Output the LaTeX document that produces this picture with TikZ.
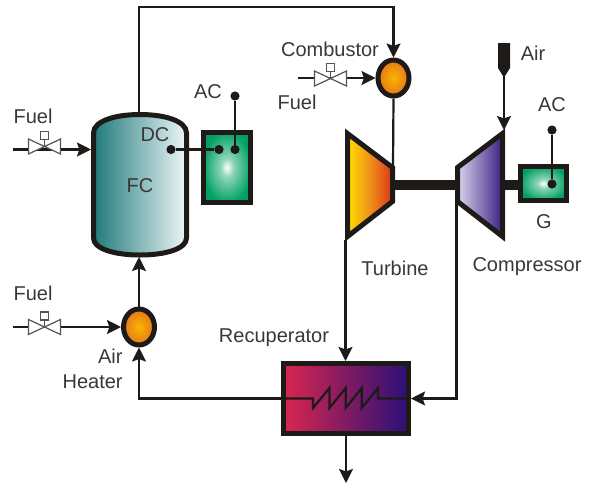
\documentclass[tikz,border=0pt]{standalone}
\usepackage{fontspec}
\setmainfont{Liberation Sans}
\usetikzlibrary{positioning, calc, arrows.meta, shapes.geometric}

\definecolor{inkline}{HTML}{1E1A18}
\definecolor{inktext}{HTML}{3A3836}
\definecolor{tankdark}{HTML}{1F7A7C}
\definecolor{tanklight}{HTML}{EEF6F6}
\definecolor{gengreen}{HTML}{00A062}
\definecolor{burnin}{HTML}{F7B500}
\definecolor{burnout}{HTML}{E8761A}
\definecolor{recupred}{HTML}{D8264E}
\definecolor{recupblue}{HTML}{2A1078}
\definecolor{turba}{HTML}{FFE000}
\definecolor{turbb}{HTML}{F0901A}
\definecolor{turbc}{HTML}{DC3414}
\definecolor{compa}{HTML}{DAD6EC}
\definecolor{compb}{HTML}{3A2082}

\pgfdeclareradialshading{genglow}{\pgfpointorigin}{color(0bp)=(white); color(7bp)=(gengreen!45!white); color(26bp)=(gengreen); color(50bp)=(gengreen)}

\tikzset{
    pipe/.style={line width=1.1pt, draw=inkline},
    flow/.style={pipe, -{Stealth[length=7pt, width=7pt, inset=1.2pt]}},
    wall/.style={line width=2.5pt, draw=inkline, line join=miter},
    label/.style={text=inktext, font=\fontsize{10}{12}\selectfont, inner sep=0pt},
    dot/.style={circle, fill=inkline, inner sep=0pt, minimum size=4.6pt},
    burner/.style={ellipse, wall, inner sep=0pt, minimum width=15.5pt, minimum height=18pt,
        shading=radial, inner color=burnin, outer color=burnout},
    genbox/.style={rectangle, wall, inner sep=0pt, shading=genglow},
    valve/.pic={
        \draw[line width=0.6pt, draw=inkline!75, fill=white] (-16,-7.5) -- (16,7.5) -- (16,-7.5) -- (-16,7.5) -- cycle;
        \draw[line width=0.6pt, draw=inkline!75] (0,0) -- (0,-7);
        \draw[line width=0.6pt, draw=inkline!75, fill=white] (-3.8,-15) rectangle (3.8,-7);
    }
}

\begin{document}
\begin{tikzpicture}[x=0.5pt, y=-0.5pt]
    \useasboundingbox (0,0) rectangle (589,484);

    % Fuel cell tank
    \draw[wall, left color=tankdark, right color=tanklight] (93.5,133)
        .. controls (93.5,121) and (115,114.5) .. (140,114.5)
        .. controls (165,114.5) and (186.5,121) .. (186.5,133) -- (186.5,238)
        .. controls (186.5,249) and (165,255) .. (140,255)
        .. controls (115,255) and (93.5,249) .. (93.5,238) -- cycle;
    \coordinate (fctop) at (139,112);
    \coordinate (fcbottom) at (139,257);
    \coordinate (fcwest) at (91,149.5);

    % Boxes and burners
    \node[genbox, minimum width=23.5pt, minimum height=35pt] (acbox) at (227,167.5) {};
    \node[genbox, minimum width=23pt, minimum height=17pt] (genbox) at (543.5,183.5) {};
    \node[burner] (comb) at (393.5,78) {};
    \node[burner] (heater) at (139,327) {};
    \node[rectangle, wall, inner sep=0pt, minimum width=62.5pt, minimum height=35pt,
        left color=recupred, right color=recupblue] (recup) at (346,398.5) {};

    % Turbine and compressor
    \draw[wall, left color=turba, right color=turbc, middle color=turbb]
        (347.5,133.5) -- (392.5,167.5) -- (392.5,201.5) -- (347.5,236.5) -- cycle;
    \draw[wall, left color=compa, right color=compb]
        (457.5,167.5) -- (502.5,133.5) -- (502.5,236.5) -- (457.5,201.5) -- cycle;
    \coordinate (turbin) at (393,166);
    \coordinate (turbout) at (345.5,240);
    \coordinate (compout) at (456.5,203);
    \coordinate (compin) at (504,130);

    % Shaft
    \fill[inkline] (395,180) rectangle (455,190);
    \fill[inkline] (505,180) rectangle (518,190);

    % Air inlet
    \fill[inkline] (498,43) -- (510,43) -- (510,68) -- (505,76) -- (503,76) -- (498,68) -- cycle;
    \coordinate (airin) at (504,74);

    % Pipes
    \coordinate (toprun) at (139,7);
    \coordinate (stack) at (346,483);
    \draw[flow] (fctop) -- (toprun) -| (comb.north);
    \draw[pipe] (comb.south) -- (turbin);
    \draw[flow] (airin) -- (compin);
    \draw[flow] (turbout) -- (turbout |- recup.north);
    \draw[flow] (compout) |- (recup.east);
    \draw[flow] (recup.west) -| (heater.south);
    \draw[flow] (heater.north) -- (fcbottom);
    \draw[flow] (recup.south) -- (stack);

    % Coil in the recuperator
    \draw[pipe, line join=miter] (recup.west) -- (313,398.5) -- (313,408) -- (329.5,388) -- (329.5,408)
        -- (345.7,388) -- (345.7,408) -- (361.7,388) -- (361.7,408) -- (378,388) -- (378,398.5) -- (recup.east);

    % Fuel lines with valves
    \coordinate (fuela) at (13,149.5);
    \coordinate (fuelb) at (13,327);
    \coordinate (fuelc) at (298,78);
    \draw[flow] (fuela) -- (fcwest);
    \draw[flow] (fuelb) -- (heater.west);
    \draw[flow] (fuelc) -- (comb.west);
    \pic at (44.5,146.5) {valve};
    \pic at (44.5,327) {valve};
    \pic at (330.5,78.5) {valve};

    % Electrical contacts
    \node[dot] (dcdot) at (171,149.5) {};
    \node[dot] (acleft) at (219,149.5) {};
    \node[dot] (acright) at (235,149.5) {};
    \node[dot] (actop) at (235,96) {};
    \node[dot] (gendot) at (552,184) {};
    \node[dot] (gentop) at (552,130) {};
    \draw[pipe] (dcdot) -- (acleft);
    \draw[pipe] (actop) -- (acright);
    \draw[pipe] (gentop) -- (gendot);

    % Labels
    \node[label] (fuellaba) at (33,116) {Fuel};
    \node[label] (aclab) at (208,92) {AC};
    \node[label] (dclab) at (155,135) {DC};
    \node[label] (fclab) at (140,186) {FC};
    \node[label] (comblab) at (330,49) {Combustor};
    \node[label] (fuellabc) at (297,102) {Fuel};
    \node[label] (airlab) at (533,53) {Air};
    \node[label] (genaclab) at (552,105) {AC};
    \node[label] (glab) at (544,222) {G};
    \node[label] (turblab) at (395,268) {Turbine};
    \node[label] (complab) at (527,267) {Compressor};
    \node[label] (fuellabb) at (33,293) {Fuel};
    \node[label, anchor=east] (airheata) at (123,356) {Air};
    \node[label, anchor=east] (airheatb) at (123,382) {Heater};
    \node[label] (recuplab) at (274,338) {Recuperator};
\end{tikzpicture}
\end{document}
